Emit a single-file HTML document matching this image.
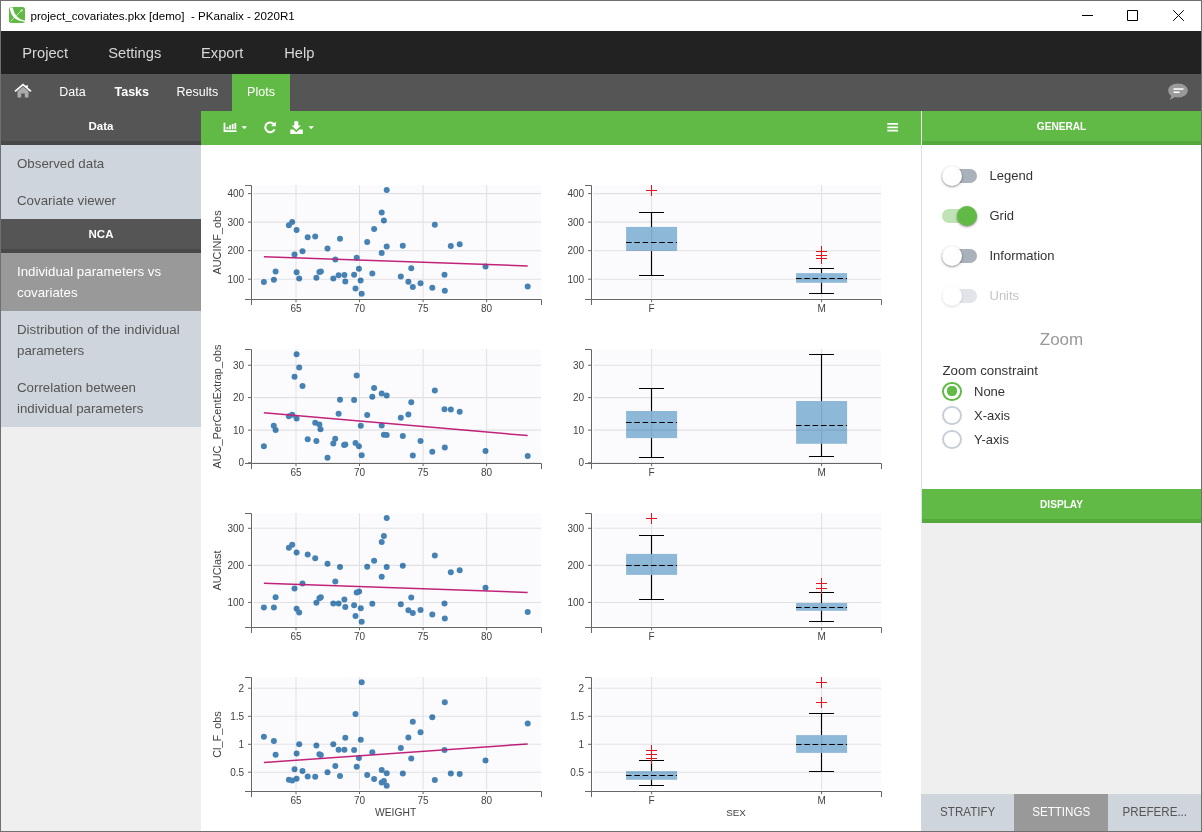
<!DOCTYPE html>
<html><head><meta charset="utf-8"><title>PKanalix</title>
<style>
html,body{margin:0;padding:0;}
body{width:1202px;height:832px;position:relative;overflow:hidden;background:#707070;font-family:"Liberation Sans",Arial,sans-serif;}
.abs{position:absolute;}
#titlebar{left:1px;top:1px;width:1200px;height:30px;background:#fff;}
#title{left:29.5px;top:7.3px;font-size:11.6px;color:#000;white-space:pre;line-height:15px;}
#menubar{left:1px;top:31px;width:1200px;height:43px;background:#222;}
.menu{top:1px;height:43px;line-height:43px;font-size:14.7px;color:#d8d8d8;white-space:nowrap;}
#tabbar{left:1px;top:74px;width:1200px;height:37px;background:#555;}
.tab{top:1px;height:37px;line-height:35px;font-size:12.5px;color:#fff;white-space:nowrap;}
#plotstab{left:231px;top:0;width:58px;height:37px;background:#62ba46;}
#sidebar{left:1px;top:111px;width:200px;height:720px;background:#efefef;}
.shead{left:0;width:200px;height:30px;background:#555;border-bottom:4px solid #484848;color:#fff;font-weight:bold;font-size:11.5px;text-align:center;line-height:31.5px;}
.sitem{left:0;width:200px;background:#cfd5dc;color:#555;font-size:13.3px;line-height:21px;box-sizing:border-box;padding-left:16px;white-space:nowrap;}
#toolbar{left:201px;top:111px;width:720px;height:34px;background:#62ba46;}
#chartbg{left:201px;top:145px;width:720px;height:686px;background:#fff;}
#rpanel{left:921px;top:111px;width:280px;height:720px;background:#efefef;}
.ghead{left:1px;width:279px;height:30px;background:#62ba46;border-bottom:4px solid #55a83b;color:#fff;font-weight:bold;font-size:10.1px;text-align:center;line-height:31.4px;}
.track{width:34.5px;height:14px;border-radius:7px;background:#a9b1bc;}
.knob{width:20px;height:20px;border-radius:10px;background:#fff;box-shadow:0 1px 2.5px rgba(0,0,0,0.45);}
.tlabel{left:68.5px;font-size:13px;color:#333;line-height:20px;white-space:nowrap;}
.radio{width:15.4px;height:15.4px;border-radius:50%;border:2px solid #c9cfd8;background:#fff;}
.rlabel{left:53px;font-size:13px;color:#333;line-height:20px;white-space:nowrap;}
.btab{top:683px;height:37px;line-height:35px;font-size:12.9px;color:#555;text-align:center;background:#cfd5dc;white-space:nowrap;}
.btab span{display:inline-block;transform:scaleX(0.9);}
#charts{position:absolute;left:0;top:0;}
</style></head><body>
<div id="titlebar" class="abs">
 <svg class="abs" style="left:8px;top:6px" width="16" height="16" viewBox="0 0 16 16"><rect x="0" y="0" width="16" height="16" rx="2.5" fill="#62ba46"/><path d="M0.800 0.600L3.900 0.600C4.600 6.800 8.800 12.600 16 13.600L16 14.700C6.800 14.500 1.300 9 0.800 0.600Z" fill="#fff"/><path d="M2 14L12.5 3.5" stroke="#fff" stroke-width="0.7" fill="none" opacity="0.85"/><circle cx="12.6" cy="3.4" r="1" fill="#fff"/></svg>
 <div id="title" class="abs">project_covariates.pkx [demo]  - PKanalix - 2020R1</div>
 <svg class="abs" style="left:1070px;top:0" width="130" height="30" viewBox="0 0 130 30"><path d="M11 14.5H22M56.500 9.500H66.500V19.500H56.500ZM102.200 9.200L112.800 19.800M112.800 9.200L102.200 19.800" stroke="#000" stroke-width="1" fill="none"/></svg>
</div>
<div id="menubar" class="abs">
 <div class="menu abs" style="left:21.3px">Project</div>
 <div class="menu abs" style="left:107.2px">Settings</div>
 <div class="menu abs" style="left:200px">Export</div>
 <div class="menu abs" style="left:283.2px">Help</div>
</div>
<div id="tabbar" class="abs">
 <svg class="abs" style="left:13px;top:8px" width="18" height="18" viewBox="0 0 18 18"><path d="M3.500 9.300L9 4.700L14.500 9.300V15.500H10.800V11.500H7.200V15.500H3.500Z" fill="#aaa"/><path d="M1 9.400L9 2.600L17 9.400M13 3.200V6.200" stroke="#fff" stroke-width="1.7" fill="none" stroke-linejoin="miter"/></svg>
 <div class="tab abs" style="left:58.3px">Data</div>
 <div class="tab abs" style="left:113.5px;font-weight:bold">Tasks</div>
 <div class="tab abs" style="left:175.5px">Results</div>
 <div id="plotstab" class="abs"></div>
 <div class="tab abs" style="left:246.1px">Plots</div>
 <svg class="abs" style="left:1166px;top:8px" width="22" height="20" viewBox="0 0 22 20"><path d="M11 1.500C16.500 1.500 20.800 4.600 20.800 8.500C20.800 12.400 16.500 15.500 11 15.500C9.800 15.500 8.700 15.350 7.700 15.100C6.500 16.300 4.800 17.300 2.300 17.600C3.500 16.400 4.200 15.200 4.300 13.700C2.400 12.400 1.200 10.600 1.200 8.500C1.200 4.600 5.500 1.500 11 1.500Z" fill="#9a9a9a"/><path d="M6.500 7H16.500M6.500 10.200H12.500" stroke="#fff" stroke-width="1.6"/></svg>
</div>
<div id="sidebar" class="abs">
 <div class="shead abs" style="top:0">Data</div>
 <div class="sitem abs" style="top:34px;height:37px;padding-top:8px">Observed data</div>
 <div class="sitem abs" style="top:71px;height:37px;padding-top:8px">Covariate viewer</div>
 <div class="shead abs" style="top:108px">NCA</div>
 <div class="sitem abs" style="top:142px;height:58px;padding-top:8px;background:#999;color:#fff">Individual parameters vs<br>covariates</div>
 <div class="sitem abs" style="top:200px;height:58px;padding-top:8px">Distribution of the individual<br>parameters</div>
 <div class="sitem abs" style="top:258px;height:58px;padding-top:8px">Correlation between<br>individual parameters</div>
</div>
<div id="toolbar" class="abs">
 <svg class="abs" style="left:0;top:0" width="720" height="34" viewBox="0 0 720 34" fill="#fff">
  <path d="M22.600 11.800H24.400V19.300H35.600V21H22.600ZM25.600 18.200V16H27.400V18.200ZM28.200 18.200V14.200H30V18.200ZM30.800 18.200V13H32.600V18.200ZM33.400 18.200V11.900H35.200V18.200Z"/>
  <path d="M40.600 15.200H46L43.300 18.200Z"/>
  <path d="M73 13.300A4.900 4.900 0 1 0 73.600 18.300" stroke="#fff" stroke-width="2" fill="none"/><path d="M74.800 10.500V15.300H70Z"/>
  <path d="M93.300 10.300H97.300V14.500H100L95.300 19L90.600 14.500H93.300ZM89.300 18.500H92.300L95.300 21.200L98.300 18.500H101.800V22.900H89.300Z"/>
  <path d="M107.500 15.200H112.900L110.200 18.200Z"/>
  <path d="M686.300 12H697.100V13.800H686.300ZM686.300 15.400H697.100V17.200H686.300ZM686.300 18.800H697.100V20.600H686.300Z"/>
 </svg>
</div>
<div id="chartbg" class="abs"></div>
<div id="rpanel" class="abs">
 <div class="abs" style="left:0;top:0;width:1px;height:412px;background:#dde1e7"></div><div class="abs" style="left:0;top:0;width:1px;height:34px;background:#eef7eb"></div>
 <div class="ghead abs" style="top:0">GENERAL</div>
 <div class="abs" style="left:1px;top:34px;width:279px;height:344px;background:#fff"></div>
 <div class="track abs" style="left:21.1px;top:58.200px"></div><div class="knob abs" style="left:20.600px;top:55.200px"></div><div class="tlabel abs" style="top:54.500px">Legend</div>
 <div class="track abs" style="left:21.1px;top:98px;background:#bfe3b4"></div><div class="knob abs" style="left:36px;top:95px;background:#62ba46"></div><div class="tlabel abs" style="top:94.500px">Grid</div>
 <div class="track abs" style="left:21.1px;top:138.200px"></div><div class="knob abs" style="left:20.600px;top:135.200px"></div><div class="tlabel abs" style="top:134.500px">Information</div>
 <div class="track abs" style="left:21.1px;top:178.200px;background:#e1e4e8"></div><div class="knob abs" style="left:20.600px;top:175.200px;box-shadow:0 1px 2.500px rgba(0,0,0,0.15)"></div><div class="tlabel abs" style="top:174.500px;color:#c4c4c4">Units</div>
 <div class="abs" style="left:1px;width:279px;top:215.8px;text-align:center;font-size:17px;color:#999;line-height:26px">Zoom</div>
 <div class="abs" style="left:21.500px;top:250px;font-size:13.3px;color:#333;line-height:20px;white-space:nowrap">Zoom constraint</div>
 <div class="radio abs" style="left:21.3px;top:270.7px;border-color:#62ba46"></div><div class="abs" style="left:26px;top:275.4px;width:10px;height:10px;border-radius:42%;background:#62ba46"></div><div class="rlabel abs" style="top:270.500px">None</div>
 <div class="radio abs" style="left:21.3px;top:294.8px"></div><div class="rlabel abs" style="top:294.500px">X-axis</div>
 <div class="radio abs" style="left:21.3px;top:318.7px"></div><div class="rlabel abs" style="top:318.500px">Y-axis</div>
 <div class="ghead abs" style="top:378px">DISPLAY</div>
 <div class="btab abs" style="left:0;width:93px"><span>STRATIFY</span></div>
 <div class="btab abs" style="left:93px;width:94px;background:#999;color:#fff"><span>SETTINGS</span></div>
 <div class="btab abs" style="left:187px;width:93px"><span>PREFERE...</span></div>
</div>
<svg id="charts" width="1202" height="832" viewBox="0 0 1202 832" font-family="Liberation Sans, Arial, sans-serif" font-size="10px" fill="#424242">
<rect x="253.3" y="185.1" width="287.6" height="112.6" fill="#fbfbfe"/>
<g fill="#4682b4"><circle cx="263.9" cy="281.9" r="3"/><circle cx="273.9" cy="279.8" r="3"/><circle cx="275.6" cy="271.6" r="3"/><circle cx="288.9" cy="225.3" r="3"/><circle cx="292.2" cy="222" r="3"/><circle cx="296.6" cy="230" r="3"/><circle cx="294.5" cy="254.4" r="3"/><circle cx="296.6" cy="272.3" r="3"/><circle cx="299.2" cy="278.4" r="3"/><circle cx="302.5" cy="251.25" r="3"/><circle cx="307.7" cy="237.2" r="3"/><circle cx="315.2" cy="236.4" r="3"/><circle cx="316.4" cy="277.7" r="3"/><circle cx="319.4" cy="271.9" r="3"/><circle cx="320.9" cy="271.4" r="3"/><circle cx="327.5" cy="248.4" r="3"/><circle cx="333.3" cy="278.4" r="3"/><circle cx="335.3" cy="259.5" r="3"/><circle cx="338.6" cy="275.2" r="3"/><circle cx="340" cy="238.75" r="3"/><circle cx="344.4" cy="275" r="3"/><circle cx="345.3" cy="281.6" r="3"/><circle cx="354.1" cy="274.8" r="3"/><circle cx="355.5" cy="288.6" r="3"/><circle cx="356.7" cy="257.8" r="3"/><circle cx="358.9" cy="268.75" r="3"/><circle cx="360.6" cy="280.6" r="3"/><circle cx="361.7" cy="293.75" r="3"/><circle cx="367.2" cy="242" r="3"/><circle cx="372.3" cy="273.4" r="3"/><circle cx="374.1" cy="229.1" r="3"/><circle cx="381.7" cy="212.5" r="3"/><circle cx="383.9" cy="220.5" r="3"/><circle cx="381.7" cy="253.1" r="3"/><circle cx="386.7" cy="246.6" r="3"/><circle cx="386.7" cy="190" r="3"/><circle cx="400.8" cy="276.4" r="3"/><circle cx="402.8" cy="245.8" r="3"/><circle cx="408.4" cy="281.7" r="3"/><circle cx="411.25" cy="268.3" r="3"/><circle cx="412.8" cy="286.9" r="3"/><circle cx="420.5" cy="283.3" r="3"/><circle cx="432.3" cy="287.8" r="3"/><circle cx="434.8" cy="224.8" r="3"/><circle cx="444.5" cy="274.7" r="3"/><circle cx="444.8" cy="290.8" r="3"/><circle cx="450.8" cy="245.9" r="3"/><circle cx="459.7" cy="244.2" r="3"/><circle cx="485.5" cy="266.4" r="3"/><circle cx="527.7" cy="286.4" r="3"/></g>
<path d="M263.9 256.7L527.7 265.9" stroke="#c2237a" stroke-width="1.5" fill="none"/>
<path d="M253.3 193.6H540.9M253.3 222.13H540.9M253.3 250.67H540.9M253.3 279.2H540.9M296 185.1V297.7M359.5 185.1V297.7M423.1 185.1V297.7M486.6 185.1V297.7" stroke="#000" stroke-opacity="0.1" stroke-width="1.05" fill="none"/>
<path d="M245 185.5H251.5V299.5H245M251.5 305V299.5H541.5V305M248 193.6H251.5M248 222.13H251.5M248 250.67H251.5M248 279.2H251.5M296 299.5V302.2M359.5 299.5V302.2M423.1 299.5V302.2M486.6 299.5V302.2" stroke="#666" stroke-width="1" fill="none"/>
<text x="244.1" y="197.2" text-anchor="end">400</text>
<text x="244.1" y="225.73" text-anchor="end">300</text>
<text x="244.1" y="254.27" text-anchor="end">200</text>
<text x="244.1" y="282.8" text-anchor="end">100</text>
<text x="296" y="312" text-anchor="middle">65</text>
<text x="359.5" y="312" text-anchor="middle">70</text>
<text x="423.1" y="312" text-anchor="middle">75</text>
<text x="486.6" y="312" text-anchor="middle">80</text>
<text transform="translate(220.9 242.5) rotate(-90)" text-anchor="middle" font-size="10.9px">AUCINF_obs</text>
<rect x="593.3" y="185.1" width="287.6" height="112.6" fill="#fbfbfe"/>
<rect x="626.1" y="226.9" width="51" height="24" fill="#8eb8d8"/>
<rect x="796.1" y="273.1" width="51" height="9.7" fill="#8eb8d8"/>
<path d="M593.3 193.6H880.9M593.3 222.13H880.9M593.3 250.67H880.9M593.3 279.2H880.9M651.6 185.1V297.7M821.6 185.1V297.7" stroke="#000" stroke-opacity="0.1" stroke-width="1.05" fill="none"/>
<path d="M639 212.5H664M651.5 212.5V226.9M651.5 250.9V275.5M639 275.5H664" stroke="#000" stroke-width="1.15" fill="none"/>
<path d="M626 242.5H677" stroke="#000" stroke-width="1.15" stroke-dasharray="5.6 2.7" fill="none"/>
<path d="M646 190.5H657M651.5 185V196" stroke="#e8141c" stroke-width="1" fill="none"/>
<path d="M809 268.5H834M821.5 268.5V273.1M821.5 282.8V293.5M809 293.5H834" stroke="#000" stroke-width="1.15" fill="none"/>
<path d="M796 278.5H847" stroke="#000" stroke-width="1.15" stroke-dasharray="5.6 2.7" fill="none"/>
<path d="M816 251.5H827M821.5 246V257M816 255.5H827M821.5 250V261M816 258.5H827M821.5 253V264" stroke="#e8141c" stroke-width="1" fill="none"/>
<path d="M585 185.5H591.5V299.5H585M591.5 305V299.5H881.5V305M588 193.6H591.5M588 222.13H591.5M588 250.67H591.5M588 279.2H591.5M651.6 299.5V302.2M821.6 299.5V302.2" stroke="#666" stroke-width="1" fill="none"/>
<text x="584.1" y="197.2" text-anchor="end">400</text>
<text x="584.1" y="225.73" text-anchor="end">300</text>
<text x="584.1" y="254.27" text-anchor="end">200</text>
<text x="584.1" y="282.8" text-anchor="end">100</text>
<text x="651.6" y="312" text-anchor="middle">F</text>
<text x="821.6" y="312" text-anchor="middle">M</text>
<rect x="253.3" y="349.1" width="287.6" height="112.6" fill="#fbfbfe"/>
<g fill="#4682b4"><circle cx="263.9" cy="446.3" r="3"/><circle cx="273.75" cy="425.7" r="3"/><circle cx="275.6" cy="430.1" r="3"/><circle cx="288.9" cy="416.2" r="3"/><circle cx="292.2" cy="414.8" r="3"/><circle cx="296.6" cy="418.5" r="3"/><circle cx="294.5" cy="376.7" r="3"/><circle cx="296.6" cy="354.2" r="3"/><circle cx="299.2" cy="367.4" r="3"/><circle cx="302.5" cy="385.9" r="3"/><circle cx="307.7" cy="439.3" r="3"/><circle cx="315.2" cy="422.75" r="3"/><circle cx="316.4" cy="441" r="3"/><circle cx="319.4" cy="424.5" r="3"/><circle cx="320.5" cy="429.3" r="3"/><circle cx="327.5" cy="457.75" r="3"/><circle cx="333.3" cy="443.5" r="3"/><circle cx="335.2" cy="438.8" r="3"/><circle cx="338.6" cy="413.7" r="3"/><circle cx="340" cy="399.8" r="3"/><circle cx="344.1" cy="445.1" r="3"/><circle cx="345.3" cy="444.6" r="3"/><circle cx="354.1" cy="400.1" r="3"/><circle cx="355.5" cy="443.1" r="3"/><circle cx="356.7" cy="375.4" r="3"/><circle cx="358.9" cy="446.2" r="3"/><circle cx="360.8" cy="425.7" r="3"/><circle cx="361.7" cy="455.25" r="3"/><circle cx="367.2" cy="415.1" r="3"/><circle cx="372.3" cy="396.8" r="3"/><circle cx="374.1" cy="388.1" r="3"/><circle cx="381.7" cy="393.4" r="3"/><circle cx="381.7" cy="425.4" r="3"/><circle cx="383.9" cy="434.8" r="3"/><circle cx="386.7" cy="395.6" r="3"/><circle cx="386.7" cy="434.9" r="3"/><circle cx="400.8" cy="417.75" r="3"/><circle cx="402.8" cy="436" r="3"/><circle cx="408.4" cy="414.5" r="3"/><circle cx="411.25" cy="402.3" r="3"/><circle cx="412.8" cy="455.4" r="3"/><circle cx="420.5" cy="441" r="3"/><circle cx="432.3" cy="451.8" r="3"/><circle cx="434.8" cy="390.4" r="3"/><circle cx="444.5" cy="409.2" r="3"/><circle cx="444.8" cy="447.4" r="3"/><circle cx="450.8" cy="409.6" r="3"/><circle cx="459.7" cy="411.8" r="3"/><circle cx="485.5" cy="450.9" r="3"/><circle cx="527.7" cy="456" r="3"/></g>
<path d="M263.9 412.75L527.7 435.6" stroke="#c2237a" stroke-width="1.5" fill="none"/>
<path d="M253.3 365.25H540.9M253.3 397.6H540.9M253.3 430.1H540.9M253.3 462.75H540.9M296 349.1V461.7M359.5 349.1V461.7M423.1 349.1V461.7M486.6 349.1V461.7" stroke="#000" stroke-opacity="0.1" stroke-width="1.05" fill="none"/>
<path d="M245 349.5H251.5V463.5H245M251.5 469V463.5H541.5V469M248 365.25H251.5M248 397.6H251.5M248 430.1H251.5M248 462.75H251.5M296 463.5V466.2M359.5 463.5V466.2M423.1 463.5V466.2M486.6 463.5V466.2" stroke="#666" stroke-width="1" fill="none"/>
<text x="244.1" y="368.85" text-anchor="end">30</text>
<text x="244.1" y="401.2" text-anchor="end">20</text>
<text x="244.1" y="433.7" text-anchor="end">10</text>
<text x="244.1" y="466.35" text-anchor="end">0</text>
<text x="296" y="476" text-anchor="middle">65</text>
<text x="359.5" y="476" text-anchor="middle">70</text>
<text x="423.1" y="476" text-anchor="middle">75</text>
<text x="486.6" y="476" text-anchor="middle">80</text>
<text transform="translate(220.9 406.5) rotate(-90)" text-anchor="middle" font-size="10.9px">AUC_PerCentExtrap_obs</text>
<rect x="593.3" y="349.1" width="287.6" height="112.6" fill="#fbfbfe"/>
<rect x="626.1" y="411" width="51" height="27.1" fill="#8eb8d8"/>
<rect x="796.1" y="401" width="51" height="42.8" fill="#8eb8d8"/>
<path d="M593.3 365.25H880.9M593.3 397.6H880.9M593.3 430.1H880.9M593.3 462.75H880.9M651.6 349.1V461.7M821.6 349.1V461.7" stroke="#000" stroke-opacity="0.1" stroke-width="1.05" fill="none"/>
<path d="M639 388.5H664M651.5 388.5V411M651.5 438.1V457.5M639 457.5H664" stroke="#000" stroke-width="1.15" fill="none"/>
<path d="M626 422.5H677" stroke="#000" stroke-width="1.15" stroke-dasharray="5.6 2.7" fill="none"/>
<path d="M809 354.5H834M821.5 354.5V401M821.5 443.8V456.5M809 456.5H834" stroke="#000" stroke-width="1.15" fill="none"/>
<path d="M796 425.5H847" stroke="#000" stroke-width="1.15" stroke-dasharray="5.6 2.7" fill="none"/>
<path d="M585 349.5H591.5V463.5H585M591.5 469V463.5H881.5V469M588 365.25H591.5M588 397.6H591.5M588 430.1H591.5M588 462.75H591.5M651.6 463.5V466.2M821.6 463.5V466.2" stroke="#666" stroke-width="1" fill="none"/>
<text x="584.1" y="368.85" text-anchor="end">30</text>
<text x="584.1" y="401.2" text-anchor="end">20</text>
<text x="584.1" y="433.7" text-anchor="end">10</text>
<text x="584.1" y="466.35" text-anchor="end">0</text>
<text x="651.6" y="476" text-anchor="middle">F</text>
<text x="821.6" y="476" text-anchor="middle">M</text>
<rect x="253.3" y="513.1" width="287.6" height="112.6" fill="#fbfbfe"/>
<g fill="#4682b4"><circle cx="263.9" cy="607.5" r="3"/><circle cx="273.9" cy="607.4" r="3"/><circle cx="275.6" cy="597.2" r="3"/><circle cx="288.9" cy="547.7" r="3"/><circle cx="292.2" cy="544.7" r="3"/><circle cx="296.6" cy="552.4" r="3"/><circle cx="294.5" cy="588.5" r="3"/><circle cx="296.6" cy="608.8" r="3"/><circle cx="299.2" cy="612.4" r="3"/><circle cx="302.5" cy="583.5" r="3"/><circle cx="307.7" cy="554.4" r="3"/><circle cx="315.2" cy="558.3" r="3"/><circle cx="316.4" cy="602.8" r="3"/><circle cx="319.4" cy="598.3" r="3"/><circle cx="320.8" cy="597.2" r="3"/><circle cx="327.5" cy="563.8" r="3"/><circle cx="333.3" cy="603.6" r="3"/><circle cx="335.3" cy="581.4" r="3"/><circle cx="338.6" cy="603.6" r="3"/><circle cx="340" cy="567.1" r="3"/><circle cx="344.4" cy="599.4" r="3"/><circle cx="345.3" cy="607.1" r="3"/><circle cx="354.1" cy="605.2" r="3"/><circle cx="355.5" cy="616.1" r="3"/><circle cx="356.7" cy="592.4" r="3"/><circle cx="359.1" cy="591.6" r="3"/><circle cx="360.8" cy="608.3" r="3"/><circle cx="361.7" cy="621.75" r="3"/><circle cx="367.2" cy="566.75" r="3"/><circle cx="372.3" cy="603.8" r="3"/><circle cx="374.1" cy="560.7" r="3"/><circle cx="381.7" cy="542.1" r="3"/><circle cx="383.9" cy="536" r="3"/><circle cx="381.7" cy="576.75" r="3"/><circle cx="386.7" cy="566.9" r="3"/><circle cx="386.7" cy="518" r="3"/><circle cx="400.8" cy="604.25" r="3"/><circle cx="402.8" cy="565.8" r="3"/><circle cx="408.4" cy="610.3" r="3"/><circle cx="411.25" cy="597.5" r="3"/><circle cx="412.8" cy="613" r="3"/><circle cx="420.5" cy="610" r="3"/><circle cx="432.3" cy="614.6" r="3"/><circle cx="434.8" cy="555.5" r="3"/><circle cx="444.5" cy="603.5" r="3"/><circle cx="444.8" cy="618.6" r="3"/><circle cx="450.8" cy="572.2" r="3"/><circle cx="459.7" cy="570.2" r="3"/><circle cx="485.5" cy="587.8" r="3"/><circle cx="527.7" cy="612.1" r="3"/></g>
<path d="M263.9 583.2L527.7 592.4" stroke="#c2237a" stroke-width="1.5" fill="none"/>
<path d="M253.3 528.3H540.9M253.3 565.35H540.9M253.3 602.4H540.9M296 513.1V625.7M359.5 513.1V625.7M423.1 513.1V625.7M486.6 513.1V625.7" stroke="#000" stroke-opacity="0.1" stroke-width="1.05" fill="none"/>
<path d="M245 513.5H251.5V627.5H245M251.5 633V627.5H541.5V633M248 528.3H251.5M248 565.35H251.5M248 602.4H251.5M296 627.5V630.2M359.5 627.5V630.2M423.1 627.5V630.2M486.6 627.5V630.2" stroke="#666" stroke-width="1" fill="none"/>
<text x="244.1" y="531.9" text-anchor="end">300</text>
<text x="244.1" y="568.95" text-anchor="end">200</text>
<text x="244.1" y="606" text-anchor="end">100</text>
<text x="296" y="640" text-anchor="middle">65</text>
<text x="359.5" y="640" text-anchor="middle">70</text>
<text x="423.1" y="640" text-anchor="middle">75</text>
<text x="486.6" y="640" text-anchor="middle">80</text>
<text transform="translate(220.9 570.5) rotate(-90)" text-anchor="middle" font-size="10.9px">AUClast</text>
<rect x="593.3" y="513.1" width="287.6" height="112.6" fill="#fbfbfe"/>
<rect x="626.1" y="553.9" width="51" height="21" fill="#8eb8d8"/>
<rect x="796.1" y="603" width="51" height="7.8" fill="#8eb8d8"/>
<path d="M593.3 528.3H880.9M593.3 565.35H880.9M593.3 602.4H880.9M651.6 513.1V625.7M821.6 513.1V625.7" stroke="#000" stroke-opacity="0.1" stroke-width="1.05" fill="none"/>
<path d="M639 535.5H664M651.5 535.5V553.9M651.5 574.9V599.5M639 599.5H664" stroke="#000" stroke-width="1.15" fill="none"/>
<path d="M626 565.5H677" stroke="#000" stroke-width="1.15" stroke-dasharray="5.6 2.7" fill="none"/>
<path d="M646 518.5H657M651.5 513V524" stroke="#e8141c" stroke-width="1" fill="none"/>
<path d="M809 592.5H834M821.5 592.5V603M821.5 610.8V621.5M809 621.5H834" stroke="#000" stroke-width="1.15" fill="none"/>
<path d="M796 607.5H847" stroke="#000" stroke-width="1.15" stroke-dasharray="5.6 2.7" fill="none"/>
<path d="M816 583.5H827M821.5 578V589M816 588.5H827M821.5 583V594" stroke="#e8141c" stroke-width="1" fill="none"/>
<path d="M585 513.5H591.5V627.5H585M591.5 633V627.5H881.5V633M588 528.3H591.5M588 565.35H591.5M588 602.4H591.5M651.6 627.5V630.2M821.6 627.5V630.2" stroke="#666" stroke-width="1" fill="none"/>
<text x="584.1" y="531.9" text-anchor="end">300</text>
<text x="584.1" y="568.95" text-anchor="end">200</text>
<text x="584.1" y="606" text-anchor="end">100</text>
<text x="651.6" y="640" text-anchor="middle">F</text>
<text x="821.6" y="640" text-anchor="middle">M</text>
<rect x="253.3" y="677.1" width="287.6" height="112.6" fill="#fbfbfe"/>
<g fill="#4682b4"><circle cx="263.9" cy="736.7" r="3"/><circle cx="273.9" cy="740.9" r="3"/><circle cx="275.6" cy="754.7" r="3"/><circle cx="288.9" cy="779.8" r="3"/><circle cx="292.2" cy="780.4" r="3"/><circle cx="296.6" cy="778.7" r="3"/><circle cx="294.5" cy="769.3" r="3"/><circle cx="296.6" cy="753.6" r="3"/><circle cx="299.2" cy="744.2" r="3"/><circle cx="302.5" cy="770.9" r="3"/><circle cx="307.7" cy="776.5" r="3"/><circle cx="315.2" cy="776.8" r="3"/><circle cx="316.4" cy="745.6" r="3"/><circle cx="319.4" cy="754.2" r="3"/><circle cx="320.8" cy="755" r="3"/><circle cx="327.5" cy="772.2" r="3"/><circle cx="333.3" cy="744.3" r="3"/><circle cx="335.3" cy="766.1" r="3"/><circle cx="338.6" cy="749.7" r="3"/><circle cx="340" cy="776.1" r="3"/><circle cx="344.4" cy="749.8" r="3"/><circle cx="345.3" cy="737.8" r="3"/><circle cx="354.1" cy="750" r="3"/><circle cx="355.5" cy="713.9" r="3"/><circle cx="356.7" cy="766.8" r="3"/><circle cx="358.9" cy="758.1" r="3"/><circle cx="360.8" cy="739.7" r="3"/><circle cx="361.7" cy="682.2" r="3"/><circle cx="367.2" cy="775" r="3"/><circle cx="372.3" cy="752.3" r="3"/><circle cx="374.1" cy="779" r="3"/><circle cx="381.7" cy="770" r="3"/><circle cx="381.7" cy="782.5" r="3"/><circle cx="383.9" cy="780.9" r="3"/><circle cx="386.7" cy="773.25" r="3"/><circle cx="386.7" cy="785.75" r="3"/><circle cx="400.8" cy="747.9" r="3"/><circle cx="402.8" cy="773.4" r="3"/><circle cx="408.4" cy="737.5" r="3"/><circle cx="411.25" cy="758.6" r="3"/><circle cx="412.8" cy="721.7" r="3"/><circle cx="420.5" cy="732.3" r="3"/><circle cx="432.3" cy="717.2" r="3"/><circle cx="434.8" cy="780" r="3"/><circle cx="444.5" cy="750.1" r="3"/><circle cx="444.8" cy="702.3" r="3"/><circle cx="450.8" cy="773.4" r="3"/><circle cx="459.7" cy="774" r="3"/><circle cx="485.5" cy="760.4" r="3"/><circle cx="527.7" cy="723.4" r="3"/></g>
<path d="M263.9 762.5L527.7 743.9" stroke="#c2237a" stroke-width="1.5" fill="none"/>
<path d="M253.3 688.25H540.9M253.3 716.3H540.9M253.3 744.3H540.9M253.3 772.2H540.9M296 677.1V789.7M359.5 677.1V789.7M423.1 677.1V789.7M486.6 677.1V789.7" stroke="#000" stroke-opacity="0.1" stroke-width="1.05" fill="none"/>
<path d="M245 677.5H251.5V791.5H245M251.5 797V791.5H541.5V797M248 688.25H251.5M248 716.3H251.5M248 744.3H251.5M248 772.2H251.5M296 791.5V794.2M359.5 791.5V794.2M423.1 791.5V794.2M486.6 791.5V794.2" stroke="#666" stroke-width="1" fill="none"/>
<text x="244.1" y="691.85" text-anchor="end">2</text>
<text x="244.1" y="719.9" text-anchor="end">1.5</text>
<text x="244.1" y="747.9" text-anchor="end">1</text>
<text x="244.1" y="775.8" text-anchor="end">0.5</text>
<text x="296" y="804" text-anchor="middle">65</text>
<text x="359.5" y="804" text-anchor="middle">70</text>
<text x="423.1" y="804" text-anchor="middle">75</text>
<text x="486.6" y="804" text-anchor="middle">80</text>
<text transform="translate(220.9 734.5) rotate(-90)" text-anchor="middle" font-size="10.9px">Cl_F_obs</text>
<rect x="593.3" y="677.1" width="287.6" height="112.6" fill="#fbfbfe"/>
<rect x="626.1" y="771.1" width="51" height="8.7" fill="#8eb8d8"/>
<rect x="796.1" y="735.1" width="51" height="17.8" fill="#8eb8d8"/>
<path d="M593.3 688.25H880.9M593.3 716.3H880.9M593.3 744.3H880.9M593.3 772.2H880.9M651.6 677.1V789.7M821.6 677.1V789.7" stroke="#000" stroke-opacity="0.1" stroke-width="1.05" fill="none"/>
<path d="M639 760.5H664M651.5 760.5V771.1M651.5 779.8V785.5M639 785.5H664" stroke="#000" stroke-width="1.15" fill="none"/>
<path d="M626 775.5H677" stroke="#000" stroke-width="1.15" stroke-dasharray="5.6 2.7" fill="none"/>
<path d="M646 750.5H657M651.5 745V756M646 754.5H657M651.5 749V760M646 758.5H657M651.5 753V764" stroke="#e8141c" stroke-width="1" fill="none"/>
<path d="M809 713.5H834M821.5 713.5V735.1M821.5 752.9V771.5M809 771.5H834" stroke="#000" stroke-width="1.15" fill="none"/>
<path d="M796 744.5H847" stroke="#000" stroke-width="1.15" stroke-dasharray="5.6 2.7" fill="none"/>
<path d="M816 682.5H827M821.5 677V688M816 702.5H827M821.5 697V708" stroke="#e8141c" stroke-width="1" fill="none"/>
<path d="M585 677.5H591.5V791.5H585M591.5 797V791.5H881.5V797M588 688.25H591.5M588 716.3H591.5M588 744.3H591.5M588 772.2H591.5M651.6 791.5V794.2M821.6 791.5V794.2" stroke="#666" stroke-width="1" fill="none"/>
<text x="584.1" y="691.85" text-anchor="end">2</text>
<text x="584.1" y="719.9" text-anchor="end">1.5</text>
<text x="584.1" y="747.9" text-anchor="end">1</text>
<text x="584.1" y="775.8" text-anchor="end">0.5</text>
<text x="651.6" y="804" text-anchor="middle">F</text>
<text x="821.6" y="804" text-anchor="middle">M</text>
<text x="395.6" y="816" text-anchor="middle" font-size="10.3px">WEIGHT</text>
<text x="736" y="816" text-anchor="middle" font-size="9.8px">SEX</text>
</svg>
</body></html>
